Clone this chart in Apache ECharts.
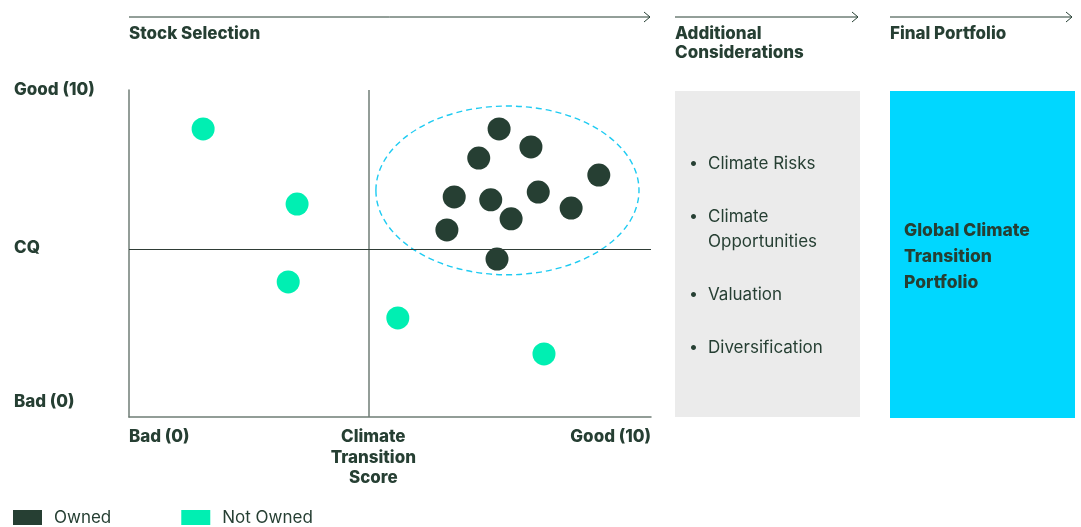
<!DOCTYPE html>
<html>
<head>
<meta charset="utf-8">
<script src="https://cdn.jsdelivr.net/npm/echarts@6/dist/echarts.min.js"></script>
<style>
  html, body { margin: 0; padding: 0; background: #fff; }
  #main { width: 1081px; height: 527px; }
</style>
</head>
<body>
<div id="main"></div>
<script>
// data (score 0-10 on both axes)
var ownedX = [7.09, 7.70, 6.70, 9.00, 6.23, 6.93, 7.84, 8.47, 7.32, 6.09, 7.05];
var ownedY = [8.81, 8.26, 7.92, 7.40, 6.73, 6.64, 6.88, 6.39, 6.06, 5.72, 4.83];
var notOwnedX = [1.42, 3.22, 3.05, 5.15, 7.95];
var notOwnedY = [8.81, 6.51, 4.13, 3.03, 1.93];
var midX = 4.6;   // climate transition score divider
var midY = 5.14;  // CQ divider
var clusterEllipse = [7.25, 6.93, 2.52, 2.58]; // cx, cy, rx, ry in data units

var xLabelVals = [0, 4.68, 10];
var xLabelTxt = ['Bad (0)', 'Climate\nTransition\nScore', 'Good (10)'];
var yLabelVals = [0.46, 5.17, 10];
var yLabelTxt = ['Bad (0)', 'CQ', 'Good (10)'];

var stages = ['Stock Selection', 'Additional\nConsiderations', 'Final Portfolio'];
var considerations = ['Climate Risks', 'Climate\nOpportunities', 'Valuation', 'Diversification'];
var portfolioName = 'Global Climate\nTransition\nPortfolio';

var dark = '#263f33';
var teal = '#00efb2';
var fontF = 'Inter, "Noto Sans", sans-serif';

function zip(a, b) {
  var out = [];
  for (var i = 0; i < a.length; i++) { out.push([a[i], b[i]]); }
  return out;
}

var myChart = echarts.init(document.getElementById('main'));

// header arrows + boxes (decoration)
var arrowSpans = [[129, 650], [675, 858], [890, 1072]];
var stageX = [129, 675, 890];
var graphics = [];
arrowSpans.forEach(function (s) {
  graphics.push({ type: 'line', shape: { x1: s[0], y1: 17, x2: s[1], y2: 17 }, style: { stroke: dark, lineWidth: 1 } });
  graphics.push({ type: 'polyline', shape: { points: [[s[1] - 6, 12], [s[1], 17], [s[1] - 6, 22]] }, style: { stroke: dark, lineWidth: 1, fill: null } });
});
stages.forEach(function (t, i) {
  graphics.push({ type: 'text', left: stageX[i], top: 24, style: { text: t, font: '800 17px ' + fontF, fill: dark, lineHeight: 19 } });
});
graphics.push({ type: 'rect', shape: { x: 675, y: 91, width: 185, height: 326 }, style: { fill: '#ebebeb' }, z: -1 });
graphics.push({ type: 'rect', shape: { x: 890, y: 91, width: 185, height: 327 }, style: { fill: '#00d7ff' }, z: -1 });
var bulletTop = [151, 204, 282, 335];
considerations.forEach(function (t, i) {
  graphics.push({ type: 'text', left: 689, top: bulletTop[i], style: { text: '\u2022', font: '16px ' + fontF, fill: dark, lineHeight: 25 } });
  graphics.push({ type: 'text', left: 708, top: bulletTop[i], style: { text: t, font: '17px ' + fontF, fill: dark, lineHeight: 25 } });
});
graphics.push({ type: 'text', left: 904, top: 218, style: { text: portfolioName, font: '800 17.5px ' + fontF, fill: dark, lineHeight: 26 } });

var option = {
  animation: false,
  textStyle: { fontFamily: fontF },
  grid: { left: 129, right: 430, top: 90, bottom: 110 },
  legend: {
    left: 13, top: 509, padding: 0,
    itemWidth: 29, itemHeight: 15, itemGap: 70,
    icon: 'rect',
    textStyle: { color: dark, fontSize: 17, fontFamily: fontF, padding: [0, 0, 0, 7] },
    data: ['Owned', 'Not Owned']
  },
  xAxis: {
    type: 'value', min: 0, max: 10,
    splitLine: { show: false },
    axisTick: { show: false },
    axisLine: { lineStyle: { color: '#6f7d76', width: 1.5 } },
    axisLabel: {
      customValues: xLabelVals,
      alignMinLabel: 'left', alignMaxLabel: 'right',
      verticalAlign: 'top',
      margin: 10,
      color: dark, fontWeight: 800, fontSize: 17, lineHeight: 20.5,
      formatter: function (v) { return xLabelTxt[xLabelVals.indexOf(v)]; }
    }
  },
  yAxis: {
    type: 'value', min: 0, max: 10,
    splitLine: { show: false },
    axisTick: { show: false },
    axisLine: { show: true, lineStyle: { color: '#6f7d76', width: 1.5 } },
    axisLabel: {
      customValues: yLabelVals,
      align: 'left', margin: 115,
      color: dark, fontWeight: 800, fontSize: 17,
      formatter: function (v) { return yLabelTxt[yLabelVals.indexOf(v)]; }
    }
  },
  graphic: graphics,
  series: [
    {
      name: 'Owned', type: 'scatter', symbolSize: 23,
      itemStyle: { color: dark, opacity: 1 },
      data: zip(ownedX, ownedY),
      markLine: {
        silent: true, symbol: 'none', label: { show: false },
        data: [
          { xAxis: midX, lineStyle: { color: '#6f7d76', width: 1.5, type: 'solid' } },
          { yAxis: midY, lineStyle: { color: '#2f3d36', width: 1.2, type: 'solid' } }
        ]
      },
      z: 3
    },
    {
      name: 'Not Owned', type: 'scatter', symbolSize: 23,
      itemStyle: { color: teal, opacity: 1 },
      data: zip(notOwnedX, notOwnedY),
      z: 3
    },
    {
      name: 'cluster', type: 'custom', silent: true,
      data: [clusterEllipse],
      renderItem: function (params, api) {
        var c = api.coord([api.value(0), api.value(1)]);
        var s = api.size([api.value(2), api.value(3)]);
        return {
          type: 'ellipse',
          shape: { cx: c[0], cy: c[1], rx: s[0], ry: s[1] },
          style: { fill: null, stroke: '#1ecbf2', lineWidth: 1.4, lineDash: [6, 4] }
        };
      },
      z: 2
    }
  ]
};
myChart.setOption(option);
</script>
</body>
</html>
